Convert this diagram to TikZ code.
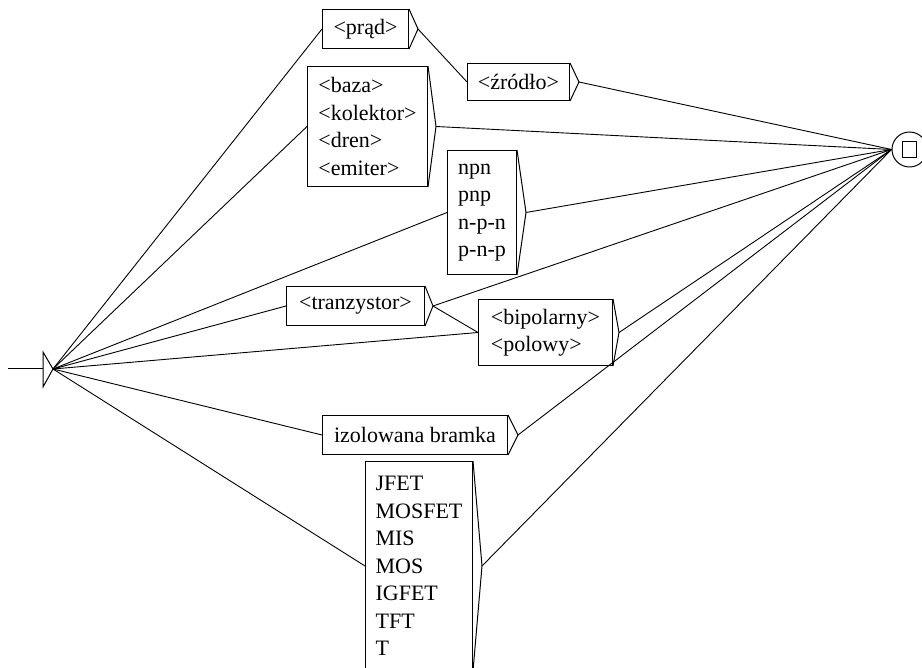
\documentclass[tikz,border=0pt]{standalone}
\usepackage{fontspec}
\setmainfont{Liberation Serif}
\begin{document}
\begin{tikzpicture}[x=1pt,y=-1pt,line width=1pt,
  every node/.style={font=\fontsize{22pt}{27.5pt}\selectfont},
  box/.style={draw,anchor=north west,align=left,inner sep=3pt},
  edge/.style={draw,line width=0.9pt}]
\useasboundingbox (0,0) rectangle (922,668);

% initial state
\coordinate (init) at (53,369);
\coordinate (initin) at (8,369);
\coordinate (initt) at (43,352);
\coordinate (initb) at (43,387);
\draw (initin) -- (initt |- init);
\draw (initt) -- (initb) -- (init) -- cycle;

% final state
\node[draw,circle,minimum size=35pt,inner sep=0pt] (final) at (909.5,149.5) {};
\node[draw,minimum width=14pt,minimum height=16pt,inner sep=0pt] (finalsq) at (final.center) {};

% boxes: name, corner, size, text
\node[box,minimum width=86pt,minimum height=39pt] (prad) at (322,9) {<prąd>};
\node[box,minimum width=102pt,minimum height=37pt] (zrodlo) at (467,63) {<źródło>};
\node[box,minimum width=120pt,minimum height=120pt] (baza) at (307,66) {<baza>\\<kolektor>\\<dren>\\<emiter>};
\node[box,minimum width=69pt,minimum height=124pt] (npn) at (447,150) {npn\\pnp\\n-p-n\\p-n-p};
\node[box,minimum width=138pt,minimum height=39pt] (tranz) at (286,286) {<tranzystor>};
\node[box,minimum width=134pt,minimum height=66pt] (bipol) at (478,299) {<bipolarny>\\<polowy>};
\node[box,minimum width=185pt,minimum height=39pt] (izol) at (322,415) {izolowana bramka};
\node[box,minimum width=107pt,minimum height=209pt] (jfet) at (365,461) {JFET\\MOSFET\\MIS\\MOS\\IGFET\\TFT\\T};

% output triangles on the right of each box
\foreach \b/\w in {prad/9,zrodlo/9,baza/8,npn/9,tranz/8,bipol/6,izol/10,jfet/9}{
  \draw (\b.north east) -- ([xshift=\w pt]\b.east) coordinate (\b-out) -- (\b.south east);
}

% transitions from the initial state
\foreach \b in {prad,baza,npn,tranz,bipol,izol,jfet}{
  \draw[edge] (init) -- (\b.west);
}

% inner transitions
\draw[edge] (prad-out) -- (zrodlo.west);
\draw[edge] (tranz-out) -- (bipol.west);

% transitions into the final state
\foreach \b in {zrodlo,baza,npn,tranz,bipol,izol,jfet}{
  \draw[edge] (\b-out) -- (final.west);
}
\end{tikzpicture}
\end{document}
